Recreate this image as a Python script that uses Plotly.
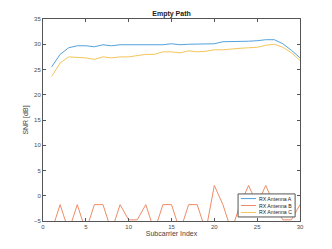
import plotly.graph_objects as go

subcarriers = list(range(1, 31))
antenna_a = [25.5, 28.0, 29.3, 29.7, 29.7, 29.5, 29.9, 29.7, 29.9, 29.9,
             29.9, 29.9, 29.9, 29.9, 30.1, 29.9, 30.0, 30.0, 30.1, 30.1,
             30.5, 30.5, 30.5, 30.6, 30.7, 30.9, 30.9, 30.1, 28.8, 27.3]
antenna_b = [-6.99, -1.76, -6.99, -1.76, -6.99, -1.76, -1.76, -6.99, -1.76, -4.77,
             -4.77, -1.76, -6.99, -1.76, -1.76, -6.99, -1.76, -1.76, -6.99, 2.04,
             -1.76, -6.99, -1.76, 2.04, -1.76, 2.04, -1.76, -4.77, -4.77, -1.76]
antenna_c = [23.6, 26.3, 27.5, 27.4, 27.3, 27.0, 27.5, 27.3, 27.5, 27.5,
             27.7, 28.0, 28.0, 28.5, 28.5, 28.3, 28.7, 28.5, 28.6, 28.9,
             28.9, 29.1, 29.2, 29.3, 29.4, 29.8, 30.0, 29.4, 28.3, 26.8]

names = ["RX Antenna A", "RX Antenna B", "RX Antenna C"]
colors = ["#52a2dc", "#ef8c66", "#f3c65c"]

fig = go.Figure()
for name, ys, col in zip(names, [antenna_a, antenna_b, antenna_c], colors):
    fig.add_trace(go.Scatter(x=subcarriers, y=ys, mode="lines", name=name,
                             line=dict(color=col, width=1), showlegend=False))

axis_common = dict(showgrid=False, zeroline=False, showline=True, mirror="ticks",
                   linecolor="#555555", linewidth=1, ticks="inside", ticklen=3,
                   tickcolor="#555555", tickfont=dict(size=6, color="#4a4a4a"),
                   automargin=False)

# compact legend box (drawn in paper coordinates)
shapes = [dict(type="rect", xref="paper", yref="paper", x0=0.759, x1=0.981, y0=0.020, y1=0.134,
               line=dict(color="#555555", width=1), fillcolor="white", layer="above")]
annotations = []
row_y = [0.111, 0.0767, 0.0421]
for name, col, ry in zip(names, colors, row_y):
    shapes.append(dict(type="line", xref="paper", yref="paper", x0=0.770, x1=0.829, y0=ry, y1=ry,
                       line=dict(color=col, width=1), layer="above"))
    annotations.append(dict(text=name, xref="paper", yref="paper", x=0.834, y=ry,
                            xanchor="left", yanchor="middle", showarrow=False,
                            font=dict(size=5.2, color="#222222")))

# page body has an 8px margin, so the figure is sized/offset to compensate
fig.update_layout(
    width=324, height=241,
    margin=dict(l=35, r=32, t=11, b=28),
    paper_bgcolor="white", plot_bgcolor="white",
    font=dict(family="Liberation Sans, Arial, sans-serif", color="#333333"),
    title=dict(text="<b>Empty Path</b>", x=0.5, xanchor="center", y=0.975, yanchor="middle",
               xref="paper", yref="container", font=dict(size=7, color="#222222")),
    xaxis=dict(range=[0, 30], tick0=0, dtick=5,
               title=dict(text="Subcarrier Index", font=dict(size=7, color="#444444"), standoff=1),
               **axis_common),
    yaxis=dict(range=[-5, 35], tick0=-5, dtick=5,
               title=dict(text="SNR [dB]", font=dict(size=7, color="#444444"), standoff=4),
               **axis_common),
    shapes=shapes,
    annotations=annotations,
    showlegend=False,
)

fig.write_html("out.html")
